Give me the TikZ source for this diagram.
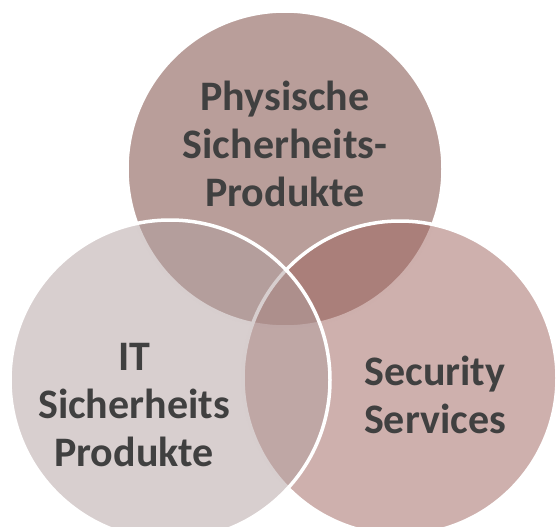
\documentclass[tikz,border=0pt]{standalone}
\usepackage{fontspec}
\setmainfont{Carlito}
\definecolor{physfill}{RGB}{185,158,154}
\definecolor{servfill}{RGB}{157,97,91}
\definecolor{itfill}{RGB}{177,159,159}
\definecolor{labeltext}{RGB}{64,64,64}
\tikzset{
  venn/.style={circle, draw=white, line width=3.5pt, inner sep=0pt},
  vlabel/.style={align=center, text=labeltext, font=\bfseries\fontsize{42}{48}\selectfont}
}
\begin{document}
\begin{tikzpicture}[x=1pt,y=-1pt]

  % Fix the page size
  \useasboundingbox (0,0) rectangle (557,527);

  % The three circles
  \node[venn, fill=physfill, minimum size=316pt] (physcircle) at (285,169) {};
  \node[venn, fill=servfill, fill opacity=0.5, minimum size=314pt] (servcircle) at (400,378) {};
  \node[venn, fill=itfill, fill opacity=0.5, minimum size=320pt] (itcircle) at (170,380) {};

  % Labels
  \node[vlabel] (physlabel) at (285,144) {Physische\\Sicherheits-\\Produkte};
  \node[vlabel] (itlabel) at (134,405) {IT\\Sicherheits\\Produkte};
  \node[vlabel] (servlabel) at (435,395) {Security\\Services};

\end{tikzpicture}
\end{document}
